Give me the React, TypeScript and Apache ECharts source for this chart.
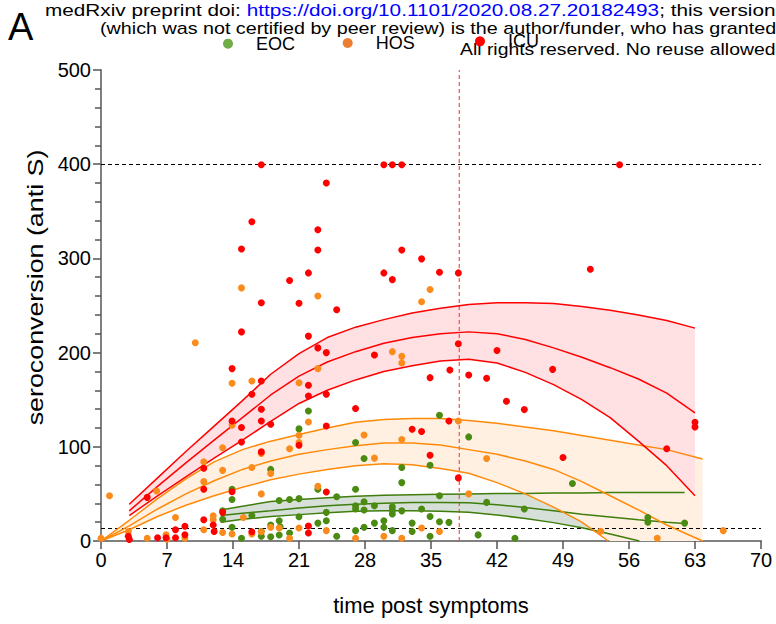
import React, { useEffect, useRef } from "react";
import * as echarts from "echarts";

const FONT = "'Liberation Sans', Arial, sans-serif";

// ---- scatter data: [day, value] ----
const eocPoints: number[][] = [
  [13.9, 55], [13.9, 44], [12.9, 32], [12.9, 23], [16, 27], [18, 76], [18.9, 43], [20, 44], [18.9, 21.5], [18, 17],
  [14.9, 3], [17, 5], [18.9, 6.4], [20, 8.5], [13.9, 14.5], [17, 10], [18, 4.6], [19, 15],
  [22, 138], [21, 119], [27, 104.5], [27.9, 87.6], [31.9, 78], [34.9, 80.5], [31.9, 62], [35.9, 133.5], [39, 110.5],
  [23, 55], [27, 55], [21, 45], [25, 47], [27.9, 41.6], [27, 37.4], [27, 34], [27.9, 33], [29, 37.4], [30.9, 36.4],
  [30.9, 32.5], [30.9, 28.6], [31.9, 32], [34, 34], [35.9, 48], [23.9, 30.4], [23.9, 21.5], [23, 19], [21, 25.7],
  [27, 11], [27.9, 14.5], [29, 19], [30, 21.5], [30, 14.5], [30.9, 11], [33, 19], [33, 10], [34.9, 26], [35.9, 20.4],
  [36.9, 19.8], [34.9, 5], [25, 5],
  [50, 61], [40.9, 41], [44.9, 34], [58, 25], [58, 20], [61.9, 19], [40, 6.5], [43.9, 3],
];

const hosPoints: number[][] = [
  [14.9, 268.7], [10, 210.5], [13.9, 167.4], [16, 169.8], [13.9, 123], [17, 93], [12.9, 99], [10.9, 84], [12.9, 75],
  [10.9, 63], [5.9, 53], [0.9, 48], [16, 78], [17, 50], [18, 71.7], [7.9, 25], [10.9, 12], [11.9, 26.8], [11.9, 22.6],
  [12.9, 9], [13.9, 7.4], [18, 14.5], [0, 3], [2.9, 10], [4.9, 3], [6.9, 6.7], [7, 2], [8.9, 3], [16, 7.4], [17, 9.9],
  [15.1, 25],
  [23, 260], [34, 254], [34.9, 267], [30.9, 201], [31.9, 196], [31.9, 189], [23, 183], [21, 168],
  [22, 126.4], [21, 112.3], [21, 104.5], [20, 98], [27.9, 112.6], [31.9, 107.7], [29, 88], [37.9, 127.4], [23, 58],
  [39, 50], [18.9, 13.8], [20, 3], [21, 13.8], [23.9, 11], [27, 3], [30, 5], [31.9, 3], [34, 13.8], [35.9, 10],
  [40.9, 87.6], [53, 10.3], [59, 3], [66, 11],
];

const icuPoints: number[][] = [
  [17, 399.4], [16, 339], [14.9, 310],
  [30, 399.4], [30.9, 399.4], [31.9, 399.4], [23.9, 380], [23, 330.5], [23, 309], [31.9, 309], [34, 299.5],
  [20, 276.5], [22, 284.6], [30, 284.6], [30.9, 277.5], [35.9, 285.3], [37.9, 284.6], [21, 252.4], [25, 245.4],
  [22, 217.5], [23, 205], [23.9, 200], [29, 197.4], [37.9, 209.4], [37, 181.5], [34.9, 173.4], [39, 176.2], [22, 165.3],
  [55, 399.4], [51.9, 288.5], [42, 202.3], [40.9, 172.7], [47.9, 182.2],
  [43, 148.3], [44.9, 139.5], [63, 126], [63, 121], [60, 98], [49, 88.7],
  [22, 154], [23.9, 155.7], [27, 140.6], [23.9, 122], [33, 118.6], [34, 116.2], [21, 101.7], [34.9, 91], [37.9, 67],
  [23.9, 52], [22, 16], [22, 8.5], [36.9, 127.4],
  [17, 253], [14.9, 222], [13.9, 183], [17, 169.8], [16, 155.7], [17, 139.8], [17, 127.4], [18, 124], [14.9, 120.4],
  [14.9, 105], [13.9, 127.4], [17, 94.6], [10.9, 77.3], [10.9, 55], [4.9, 46.3], [13.9, 52.2], [12.9, 30.4],
  [10.9, 22.6], [11.9, 17], [12, 10], [2.9, 5], [3, 1.5], [6, 3.5], [6.9, 3.5], [7.9, 12], [7.9, 3.5], [8.9, 15.6],
  [8.9, 6.7], [16, 9.9],
];

// ---- fitted curves ----
const icuDays = [3, 6, 9, 12, 15, 18, 21, 24, 27, 30, 33, 36, 39, 42, 45, 48, 51, 54, 57, 60, 63];
const icuUpper = [39, 67, 95, 122, 149, 177, 199, 216, 227, 235, 242, 247, 251, 253, 253, 252, 249, 245, 240, 234, 226];
const icuMid = [32, 58, 83, 107, 131, 155, 175, 190, 201, 210, 216, 220, 222, 220, 214, 205, 195, 184, 172, 157, 136];
const icuLower = [27, 48, 68, 88, 107, 127, 146, 160, 171, 180, 186, 191, 193, 189, 179, 166, 150, 131, 106, 80, 48];

const hosDays = [0, 3, 6, 9, 12, 15, 18, 21, 24, 27, 30, 33, 36, 39, 42, 45, 48, 51, 54, 57, 60, 63.8];
const hosUpper = [0, 22, 45, 66, 84, 97, 106, 113, 120, 126, 129, 130, 130, 128, 125, 121, 117, 112, 107, 102, 97, 87];
const hosMid = [0, 16, 34, 50, 64, 76, 85, 92, 97, 101, 104, 104, 102, 97, 92, 85, 76, 63, 48, 33, 17, 0];
const hosLowerDays = [0, 3, 6, 9, 12, 15, 18, 21, 24, 27, 30, 33, 36, 39, 42, 45, 48, 51, 53.8];
const hosLower = [0, 12, 26, 38, 48, 57, 65, 71, 76, 80, 82, 81, 77, 72, 62, 50, 36, 20, 0];
const hosBandLower = [0, 12, 26, 38, 48, 57, 65, 71, 76, 80, 82, 81, 77, 72, 62, 50, 36, 20, 0, 0, 0, 0];

const eocDays = [12.7, 15, 18, 21, 24, 27, 30, 33, 36, 39, 42, 45, 48, 51, 54, 57, 60, 61.9];
const eocUpper = [33, 37, 42, 44, 46, 47.5, 48.5, 49, 49.5, 50, 50.5, 50.5, 51, 51, 51.5, 51.5, 51.5, 51.5];
const eocMid = [27, 29.5, 32, 35, 37.5, 39, 40, 41, 41, 40.5, 38.5, 35.5, 32, 28.5, 25.5, 22.5, 20, 18.5];
const eocLowerDays = [12.7, 15, 18, 21, 24, 27, 30, 33, 36, 39, 42, 45, 48, 51, 54, 57.1];
const eocLower = [20, 23, 26, 28, 30, 31.5, 32, 32, 31.5, 30.5, 27.5, 24, 19.5, 14, 7.5, 0];
const eocBandLower = [20, 23, 26, 28, 30, 31.5, 32, 32, 31.5, 30.5, 27.5, 24, 19.5, 14, 7.5, 0, 0, 0];

const refLevels = [400, 14];
const cutoffDay = 38;
const yRange = [0, 500];

const COLORS = {
  eoc: "#4b8b12",
  hos: "#fa8c1e",
  icu: "#ff0000",
  eocLine: "#3f7d0c",
  hosLine: "#ff8a0a",
  icuLine: "#ff0000",
  eocFill: "#d7e0d8",
  hosFill: "#fff0e1",
  icuFill: "#ffe0e3",
  eocLegend: "#70ad47",
  hosLegend: "#ed7d31",
  icuLegend: "#ff0000",
  cutoff: "#ff4a4a",
};

function band(name: string, days: number[], upper: number[], lower: number[], fill: string, z: number) {
  return {
    type: "custom",
    name,
    coordinateSystem: "cartesian2d",
    silent: true,
    clip: true,
    z,
    data: days.map((d, i) => [d, upper[i], lower[i]]),
    encode: { x: 0, y: [1, 2] },
    renderItem: (params: any, api: any) => {
      if (params.dataIndex !== 0) return null;
      const top = days.map((d, i) => api.coord([d, upper[i]]));
      const bottom = days.map((d, i) => api.coord([d, lower[i]])).reverse();
      return {
        type: "polygon",
        shape: { points: top.concat(bottom) },
        style: { fill, stroke: null },
        silent: true,
      };
    },
  };
}

function curve(name: string, days: number[], vals: number[], color: string, extra: any = {}) {
  return {
    type: "line",
    name,
    data: days.map((d, i) => [d, vals[i]]),
    showSymbol: false,
    symbol: "none",
    smooth: false,
    silent: true,
    z: 2,
    lineStyle: { color, width: 1.5, ...extra },
    itemStyle: { color },
    emphasis: { disabled: true },
  };
}

function legendItem(name: string, color: string, left: number, top: number) {
  return {
    data: [{ name, itemStyle: { color } }],
    left,
    top,
    padding: 0,
    icon: "circle",
    itemWidth: 10,
    itemHeight: 10,
    selectedMode: false,
    textStyle: { fontSize: 18, color: "#000", fontFamily: FONT, padding: [0, 0, 4, 18] },
  };
}

function headerText(text: string, x: number, baseline: number, scaleX: number, rich?: any) {
  return {
    type: "text",
    x,
    y: baseline - 0.3465 * 17,
    scaleX,
    style: {
      text,
      rich,
      fontSize: 17,
      fontFamily: FONT,
      fill: "#000",
      align: "left",
      verticalAlign: "middle",
    },
  };
}

export default function App() {
  const ref = useRef<HTMLDivElement>(null);

  useEffect(() => {
    if (!ref.current) return;
    const chart = echarts.init(ref.current, undefined, { renderer: "svg" });
    const dashBlack = { color: "#000", type: [4, 3], width: 1 };

    const option: any = {
      animation: false,
      backgroundColor: "#fff",
      grid: { left: 101, right: 15, top: 70, bottom: 83, containLabel: false },
      legend: [
        legendItem("EOC", COLORS.eocLegend, 223, 34.7),
        legendItem("HOS", COLORS.hosLegend, 342.7, 34),
        legendItem("ICU", COLORS.icuLegend, 475, 32.3),
      ],
      xAxis: {
        type: "value",
        min: 0,
        max: 70,
        interval: 7,
        name: "time post symptoms",
        nameLocation: "middle",
        nameGap: 53,
        nameTextStyle: { fontSize: 22, color: "#000", fontFamily: FONT },
        axisLine: { show: true, onZero: false, lineStyle: { color: "#808080", width: 2 } },
        axisTick: { show: true, length: 8, lineStyle: { color: "#555", width: 1.5 } },
        axisLabel: { fontSize: 20, color: "#000", margin: 9, fontFamily: FONT },
        splitLine: { show: false },
      },
      yAxis: {
        type: "value",
        min: yRange[0],
        max: yRange[1],
        interval: 100,
        axisLine: { show: true, lineStyle: { color: "#808080", width: 2 } },
        axisTick: { show: true, length: 8, lineStyle: { color: "#555", width: 1.5 } },
        minorTick: { show: true, splitNumber: 5, length: 6, lineStyle: { color: "#555", width: 1.5 } },
        axisLabel: { fontSize: 20, color: "#000", margin: 10, fontFamily: FONT },
        splitLine: { show: false },
        minorSplitLine: { show: false },
      },
      graphic: [
        {
          type: "text",
          x: 8,
          y: 40 - 0.3465 * 38,
          style: { text: "A", fontSize: 38, fontFamily: FONT, fill: "#000", align: "left", verticalAlign: "middle" },
        },
        headerText(
          "{n|medRxiv preprint doi: }{l|https://doi.org/10.1101/2020.08.27.20182493}{n|; this version}",
          45,
          15.6,
          1.22,
          {
            n: { fill: "#000", fontSize: 17, fontFamily: FONT },
            l: { fill: "#0000ff", fontSize: 17, fontFamily: FONT },
          }
        ),
        headerText("(which was not certified by peer review) is the author/funder, who has granted", 100, 34, 1.16),
        headerText("All rights reserved. No reuse allowed", 460, 55, 1.14),
        {
          type: "text",
          x: 35,
          y: 287.5,
          rotation: Math.PI / 2,
          scaleX: 1.22,
          style: {
            text: "seroconversion (anti S)",
            fontSize: 22,
            fontFamily: FONT,
            fill: "#000",
            align: "center",
            verticalAlign: "middle",
          },
        },
      ],
      series: [
        band("EOC band", eocDays, eocUpper, eocBandLower, COLORS.eocFill, 1),
        band("HOS band", hosDays, hosUpper, hosBandLower, COLORS.hosFill, 1),
        band("ICU band", icuDays, icuUpper, icuLower, COLORS.icuFill, 1),
        curve("cutoff day", [cutoffDay, cutoffDay], yRange, COLORS.cutoff, { width: 1.2, type: [4, 3] }),
        curve("EOC upper", eocDays, eocUpper, COLORS.eocLine),
        curve("EOC fit", eocDays, eocMid, COLORS.eocLine),
        curve("EOC lower", eocLowerDays, eocLower, COLORS.eocLine),
        curve("HOS upper", hosDays, hosUpper, COLORS.hosLine),
        curve("HOS fit", hosDays, hosMid, COLORS.hosLine),
        curve("HOS lower", hosLowerDays, hosLower, COLORS.hosLine),
        curve("ICU upper", icuDays, icuUpper, COLORS.icuLine),
        curve("ICU fit", icuDays, icuMid, COLORS.icuLine),
        curve("ICU lower", icuDays, icuLower, COLORS.icuLine),
        {
          type: "scatter",
          name: "EOC",
          data: eocPoints,
          symbol: "circle",
          symbolSize: 7,
          z: 3,
          itemStyle: { color: COLORS.eoc, opacity: 1 },
          markLine: {
            silent: true,
            z: 2,
            symbol: ["none", "none"],
            label: { show: false },
            emphasis: { disabled: true },
            lineStyle: dashBlack,
            data: refLevels.map((v) => ({ yAxis: v })),
          },
        },
        {
          type: "scatter",
          name: "HOS",
          data: hosPoints,
          symbol: "circle",
          symbolSize: 7,
          z: 3,
          itemStyle: { color: COLORS.hos, opacity: 1 },
        },
        {
          type: "scatter",
          name: "ICU",
          data: icuPoints,
          symbol: "circle",
          symbolSize: 7,
          z: 3,
          itemStyle: { color: COLORS.icu, opacity: 1 },
        },
      ],
    };

    chart.setOption(option);
    return () => chart.dispose();
  }, []);

  return (
    <div
      ref={ref}
      style={{ position: "absolute", left: 0, top: 0, width: 776, height: 624, background: "#fff" }}
    />
  );
}
